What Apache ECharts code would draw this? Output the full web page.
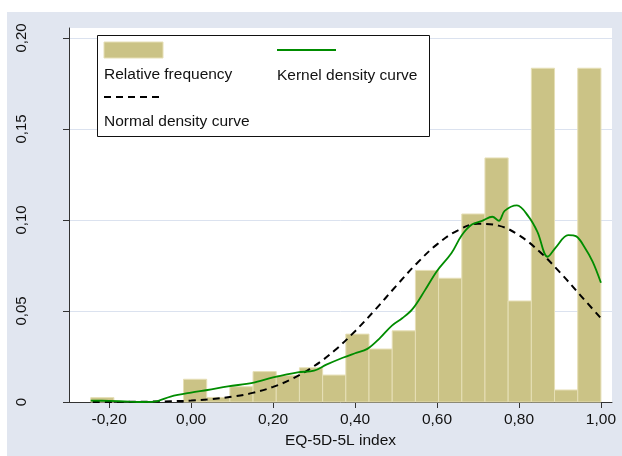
<!DOCTYPE html>
<html><head><meta charset="utf-8">
<script src="https://cdn.jsdelivr.net/npm/echarts@6/dist/echarts.min.js"></script>
<style>html,body{margin:0;padding:0;background:#fff}#c{width:622px;height:456px}</style>
</head><body><div id="c"></div>
<script>
// ---- data ----
const binEdges = [-0.245, -0.1884, -0.1318, -0.0752, -0.0186, 0.0380, 0.0945, 0.1511, 0.2077, 0.2643, 0.3209,
  0.3775, 0.4341, 0.4907, 0.5473, 0.6039, 0.6605, 0.7170, 0.7736, 0.8302, 0.8868, 0.9434, 1.0000];
const relFreq = [0.0024, 0, 0, 0, 0.0125, 0.0025, 0.0084, 0.0167, 0.0145, 0.0188, 0.0148,
  0.0373, 0.0291, 0.0391, 0.0723, 0.0680, 0.1033, 0.1341, 0.0555, 0.1834, 0.0066, 0.1834];

const normalX = [-0.24, -0.20, -0.15, -0.10, -0.05, 0.00, 0.05, 0.10, 0.15, 0.20, 0.25, 0.30, 0.35, 0.40,
  0.45, 0.50, 0.55, 0.60, 0.65, 0.70, 0.75, 0.80, 0.85, 0.90, 0.95, 1.00];
const normalY = [0.0000, 0.0000, 0.0001, 0.0002, 0.0004, 0.0008, 0.0016, 0.0029, 0.0050, 0.0083, 0.0131, 0.0197, 0.0283, 0.0389,
  0.0509, 0.0637, 0.0760, 0.0866, 0.0942, 0.0979, 0.0969, 0.0916, 0.0827, 0.0712, 0.0586, 0.0460];

const kernelX = [-0.245, -0.20, -0.15, -0.12, -0.09, -0.05, 0.00, 0.04, 0.09, 0.15, 0.20, 0.26, 0.30, 0.33, 0.37,
  0.40, 0.43, 0.46, 0.49, 0.515, 0.54, 0.57, 0.60, 0.635, 0.66, 0.685, 0.71, 0.735, 0.751, 0.765, 0.795,
  0.823, 0.845, 0.870, 0.89, 0.92, 0.94, 0.96, 0.98, 1.00];
const kernelY = [0.0008, 0.0006, 0.0002, 0.0000, 0.0002, 0.0030, 0.0052, 0.0066, 0.0086, 0.0105, 0.0135, 0.0163, 0.0172, 0.0205, 0.0243,
  0.0268, 0.0292, 0.0350, 0.0420, 0.0460, 0.0510, 0.0612, 0.0720, 0.0817, 0.0915, 0.0975, 0.0995, 0.1018, 0.0996, 0.1050, 0.1080,
  0.1020, 0.0935, 0.0798, 0.0850, 0.0917, 0.0910, 0.0850, 0.0770, 0.0655];

const xTicks = [-0.2, 0, 0.2, 0.4, 0.6, 0.8, 1.0];
const yTicks = [0, 0.05, 0.10, 0.15, 0.20];
const legendLabels = ['Relative frequency', 'Kernel density curve', 'Normal density curve'];
const xTitle = 'EQ-5D-5L index';

// ---- styles ----
const FONT = '"Liberation Sans", Arial, sans-serif';
const TXT = '#111';
const BAR = '#cbc386';
const BAR_EDGE = '#e6dfb6';
const GREEN = '#008c00';
const BG = '#e1e6f0';
const GRID = '#dbe2ef';

const histData = relFreq.map((h, i) => [binEdges[i], binEdges[i + 1], h]);
const normalData = normalX.map((x, i) => [x, normalY[i]]);
const kernelData = kernelX.map((x, i) => [x, kernelY[i]]);

const fmtX = v => (Math.abs(v) < 1e-9 ? 0 : v).toFixed(2).replace('.', ',');
const fmtY = v => Math.abs(v) < 1e-9 ? '0' : v.toFixed(2).replace('.', ',');

const chart = echarts.init(document.getElementById('c'), null, {renderer: 'canvas'});
chart.setOption({
  backgroundColor: '#fff',
  animation: false,
  textStyle: {fontFamily: FONT},
  grid: {left: 69, right: 10, top: 28, bottom: 54, show: true, backgroundColor: '#fff', borderWidth: 0, containLabel: false},
  xAxis: {
    type: 'value', min: -0.298, max: 1.027,
    name: xTitle, nameLocation: 'middle', nameGap: 26,
    nameTextStyle: {fontFamily: FONT, fontSize: 15.5, color: TXT},
    axisLine: {show: true, onZero: false, lineStyle: {color: '#333', width: 1}},
    axisTick: {show: true, length: 6, customValues: xTicks, lineStyle: {color: '#333'}},
    axisLabel: {customValues: xTicks, formatter: fmtX, fontFamily: FONT, fontSize: 15.5, color: TXT, margin: 10},
    splitLine: {show: false}
  },
  yAxis: {
    type: 'value', min: 0, max: 0.2055, interval: 0.05,
    axisLine: {show: true, onZero: false, lineStyle: {color: '#333', width: 1}},
    axisTick: {show: true, length: 6, customValues: yTicks, lineStyle: {color: '#333'}},
    axisLabel: {customValues: yTicks, formatter: fmtY, rotate: 90, fontFamily: FONT, fontSize: 15, color: TXT, margin: 40},
    splitLine: {show: true, lineStyle: {color: GRID, width: 1}}
  },
  graphic: [
    {type: 'rect', z: -10, shape: {x: 7, y: 12, width: 615, height: 444}, style: {fill: BG}, silent: true},
    {type: 'rect', z: 100, shape: {x: 97.5, y: 35.5, width: 332, height: 101}, style: {fill: '#fff', stroke: '#111', lineWidth: 1}},
    {type: 'rect', z: 101, shape: {x: 104, y: 42, width: 59, height: 16}, style: {fill: BAR, stroke: BAR_EDGE, lineWidth: 1}},
    {type: 'text', z: 101, x: 104, y: 75, style: {text: legendLabels[0], font: '15.5px ' + FONT, fill: TXT, textVerticalAlign: 'middle'}},
    {type: 'line', z: 101, shape: {x1: 277, y1: 50, x2: 336, y2: 50}, style: {stroke: GREEN, lineWidth: 2}},
    {type: 'text', z: 101, x: 277, y: 75.5, style: {text: legendLabels[1], font: '15.5px ' + FONT, fill: TXT, textVerticalAlign: 'middle'}},
    {type: 'line', z: 101, shape: {x1: 104, y1: 97, x2: 164, y2: 97}, style: {stroke: '#000', lineWidth: 2, lineDash: [7, 5]}},
    {type: 'text', z: 101, x: 104, y: 122, style: {text: legendLabels[2], font: '15.5px ' + FONT, fill: TXT, textVerticalAlign: 'middle'}}
  ],
  series: [
    {
      type: 'custom', name: legendLabels[0], data: histData, encode: {x: [0, 1], y: 2},
      renderItem: function (params, api) {
        const h = api.value(2);
        if (!(h > 0)) return null;
        const p0 = api.coord([api.value(0), h]);
        const p1 = api.coord([api.value(1), 0]);
        return {type: 'rect', shape: {x: p0[0], y: p0[1], width: p1[0] - p0[0], height: p1[1] - p0[1]},
          style: {fill: BAR, stroke: BAR_EDGE, lineWidth: 1}};
      }
    },
    {
      type: 'line', name: legendLabels[2], data: normalData, smooth: 0.4, showSymbol: false, symbol: 'none',
      lineStyle: {color: '#000', width: 2, type: [7, 5]}, z: 3
    },
    {
      type: 'line', name: legendLabels[1], data: kernelData, smooth: 0.35, showSymbol: false, symbol: 'none',
      lineStyle: {color: GREEN, width: 1.8}, z: 4
    }
  ]
});
</script>
</body></html>
